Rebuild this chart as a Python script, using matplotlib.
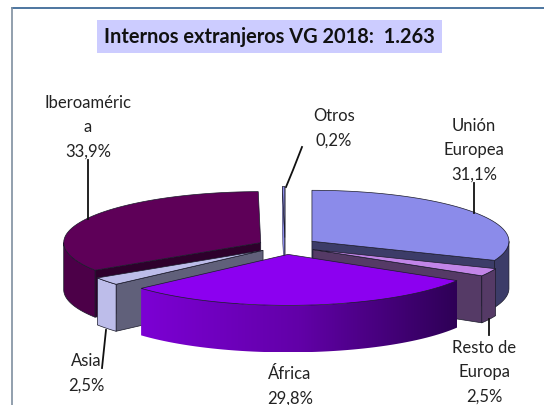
import numpy as np
import matplotlib
matplotlib.use("Agg")
import matplotlib.pyplot as plt
from matplotlib.patches import Polygon, Rectangle
from matplotlib.colors import LinearSegmentedColormap

title = "Internos extranjeros VG 2018:  1.263"
names = ["Unión\nEuropea", "Resto de\nEuropa", "África", "Asia", "Iberoaméric\na", "Otros"]
values = [31.1, 2.5, 29.8, 2.5, 33.9, 0.2]
pct_labels = ["31,1%", "2,5%", "29,8%", "2,5%", "33,9%", "0,2%"]

top_colors = ["#8B8BEA", "#C285E8", "#8C00F0", "#BDBDEA", "#5E0058", "#8B8BEA"]
wall_colors = ["#3C3C68", "#553A66", None, "#BDBDEA", "#4C0048", "#3C3C68"]
cut_colors = ["#3C3C68", "#553A66", "#300058", "#60607A", "#2E002C", "#8B8BEA"]
explode = [0.165, 0.158, 0.165, 0.14, 0.14, 0.165]

label_xy = [(474, 150), (484, 372), (290, 386), (86, 373), (88, 127), (334, 128)]
leaders = [[(474, 183), (474, 213)], [(489, 319), (489, 335)], None,
           [(106, 330), (102, 368)], [(88, 160), (88, 219)],
           [(302, 147), (293, 170), (286, 187)]]

CX, CY, A, B, DEPTH = 285, 246, 197, 51, 47

fig = plt.figure(figsize=(5.44, 4.05), dpi=100)
ax = fig.add_axes([0, 0, 1, 1])
ax.axis("off")

FONT = ["Lato", "DejaVu Sans"]
ax.plot([12, 544], [8, 8], color="#2F5F90", lw=1.2)
ax.plot([12, 12], [405, 8], color="#7F8FA0", lw=1.2)
ax.add_patch(Rectangle((97, 20), 345, 33, facecolor="#CCCCFF", edgecolor="none"))
ax.text(269.5, 37, title, ha="center", va="center", fontsize=14.4,
        fontweight="bold", family=FONT, color="#111111")

fr = np.array(values) / sum(values) * 360
ends = np.cumsum(fr)
starts = ends - fr


def pt(apex, t):
    r = np.radians(t)
    return apex[0] + A * np.sin(r), apex[1] - B * np.cos(r)


def arc(apex, t0, t1, n=60):
    ts = np.linspace(t0, t1, n)
    return np.column_stack(pt(apex, ts))


def apex_of(i):
    m = np.radians((starts[i] + ends[i]) / 2)
    return CX + explode[i] * A * np.sin(m), CY - explode[i] * B * np.cos(m)


EDGE = "#1a1a2a"
grad = LinearSegmentedColormap.from_list("wall", ["#7C00D4", "#6200A8", "#2E0056"])


def quad(pts, fc, z, ec=EDGE, lw=0.5):
    ax.add_patch(Polygon(pts, closed=True, facecolor=fc, edgecolor=ec, lw=lw, zorder=z))


def draw_slice(i, z):
    ap = apex_of(i)
    t0, t1 = starts[i], ends[i]
    down = np.array([0, DEPTH])
    for t in (t0, t1):
        s = np.sin(np.radians(t))
        if (t == t1 and s > 0) or (t == t0 and s < 0) or i == 5:
            p = np.array(pt(ap, t))
            a = np.array(ap)
            quad([a, p, p + down, a + down], cut_colors[i], z, lw=0.3 if i == 5 else 0.5)
    lo, hi = max(t0, 90), min(t1, 270)
    if hi > lo:
        seg = arc(ap, lo, hi)
        outline = np.vstack([seg, (seg + down)[::-1]])
        if wall_colors[i] is None:
            patch = Polygon(outline, closed=True, facecolor="none", edgecolor="none", zorder=z)
            ax.add_patch(patch)
            x0, x1 = outline[:, 0].min(), outline[:, 0].max()
            y0, y1 = outline[:, 1].min(), outline[:, 1].max()
            im = ax.imshow(np.linspace(0, 1, 256)[None, :], cmap=grad, aspect="auto",
                           extent=(x0, x1, y1, y0), zorder=z, interpolation="bilinear")
            im.set_clip_path(patch)
        else:
            quad(outline, wall_colors[i], z)
    quad(np.vstack([[ap], arc(ap, t0, t1)]), top_colors[i], z + 0.5)


for z, i in enumerate([5, 4, 0, 3, 1, 2]):
    draw_slice(i, 2 + z)

for i, (n, p) in enumerate(zip(names, pct_labels)):
    ax.text(*label_xy[i], n + "\n" + p, ha="center", va="center", fontsize=12,
            family=FONT, color="#222222", linespacing=1.65, zorder=20)
    if leaders[i]:
        xs, ys = zip(*leaders[i])
        ax.plot(xs, ys, color="#111111", lw=1.3, zorder=19)

ax.set_xlim(0, 544)
ax.set_ylim(405, 0)
fig.savefig("out.png", dpi=100)
